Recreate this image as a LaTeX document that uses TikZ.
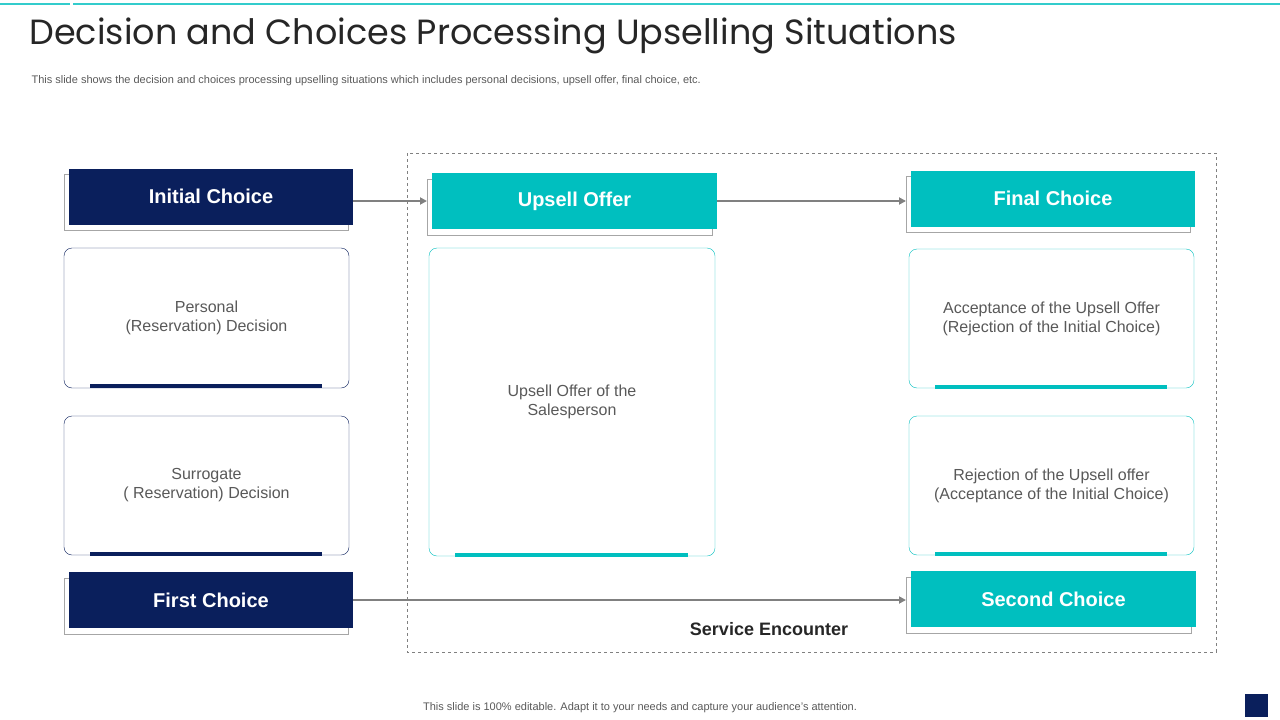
\documentclass[tikz,border=0pt]{standalone}
\usepackage{fontspec}
\setmainfont{Liberation Sans}
\newfontfamily\titlefont{Poppins}
\usetikzlibrary{positioning,arrows.meta}
\definecolor{navy}{HTML}{0A1F5C}
\definecolor{teal}{HTML}{00BFBF}
\definecolor{txtgray}{HTML}{595959}
\tikzset{
  head/.style={minimum width=284pt, minimum height=56pt, inner sep=0pt, text=white, font=\fontsize{20}{24}\selectfont\bfseries},
  shadowbox/.style={draw=gray!70, fill=white, minimum width=284pt, minimum height=56pt, inner sep=0pt},
  card/.style={draw, rounded corners=8pt, fill=white, minimum width=285pt, inner sep=0pt, text=txtgray, align=center, font=\fontsize{16}{19}\selectfont},
  bar/.style={line width=4pt},
  link/.style={draw=gray, line width=2pt, -{Triangle[length=7pt,width=7pt]}}
}
\begin{document}
\begin{tikzpicture}[x=1pt,y=-1pt]
  \useasboundingbox (0,0) rectangle (1280,720);
  % top rule
  \draw[teal!80, line width=2.5pt] (0,4) -- (70,4) (73,4) -- (1280,4);
  \node[anchor=west, text=black!85, font=\titlefont\fontsize{35}{40}\selectfont] (title) at (26,36) {Decision and Choices Processing Upselling Situations};
  \node[anchor=west, text=txtgray, font=\fontsize{11}{13}\selectfont] (sub) at (28,81) {This slide shows the decision and choices processing upselling situations which includes personal decisions, upsell offer, final choice, etc.};
  % service encounter frame
  \draw[gray, dashed, line width=1pt] (407,153) rectangle (1216,652);
  \node[font=\fontsize{18}{21}\selectfont\bfseries, text=black!85] (se) at (769,629) {Service Encounter};
  % left column
  \node[shadowbox] at (206.5,202) {};
  \node[head, fill=navy] (init) at (211,196.5) {Initial Choice};
  \node[card, draw=navy, minimum height=140pt] (pers) at (206.5,318) {Personal\\(Reservation) Decision};
  \draw[bar, navy] (90,386) -- (322,386);
  \node[card, draw=navy, minimum height=139pt] (surr) at (206.5,485.5) {Surrogate\\( Reservation) Decision};
  \draw[bar, navy] (90,553.5) -- (322,553.5);
  \node[shadowbox] at (206,606) {};
  \node[head, fill=navy] (first) at (211,600) {First Choice};
  % middle column
  \node[shadowbox, minimum width=285pt] at (569.5,207) {};
  \node[head, fill=teal, minimum width=285pt] (ups) at (574.5,201) {Upsell Offer};
  \node[card, draw=teal, minimum width=286pt, minimum height=308pt] (sales) at (572,402) {Upsell Offer of the\\Salesperson};
  \draw[bar, teal] (455,554.5) -- (688,554.5);
  % right column
  \node[shadowbox] at (1048,204) {};
  \node[head, fill=teal] (final) at (1053,198.5) {Final Choice};
  \node[card, draw=teal, minimum height=139pt] (acc) at (1051.5,318.5) {Acceptance of the Upsell Offer\\(Rejection of the Initial Choice)};
  \draw[bar, teal] (935,386.5) -- (1167,386.5);
  \node[card, draw=teal, minimum height=139pt] (rej) at (1051.5,485.5) {Rejection of the Upsell offer\\(Acceptance of the Initial Choice)};
  \draw[bar, teal] (935,553.5) -- (1167,553.5);
  \node[shadowbox, minimum width=285pt] at (1048.5,605) {};
  \node[head, fill=teal, minimum width=285pt] (second) at (1053.5,599) {Second Choice};
  % arrows
  \coordinate (a1) at (427,201);
  \coordinate (a2) at (906,201);
  \coordinate (a3) at (906,600);
  \draw[link] (init.east |- a1) -- (a1);
  \draw[link] (ups.east |- a2) -- (a2);
  \draw[link] (first.east |- a3) -- (a3);
  % footer
  \node[text=txtgray, font=\fontsize{11}{13}\selectfont] (foot) at (640,708) {This slide is 100\% editable. Adapt it to your needs and capture your audience's attention.};
  \fill[navy] (1245,694) rectangle (1268,717);
\end{tikzpicture}
\end{document}
